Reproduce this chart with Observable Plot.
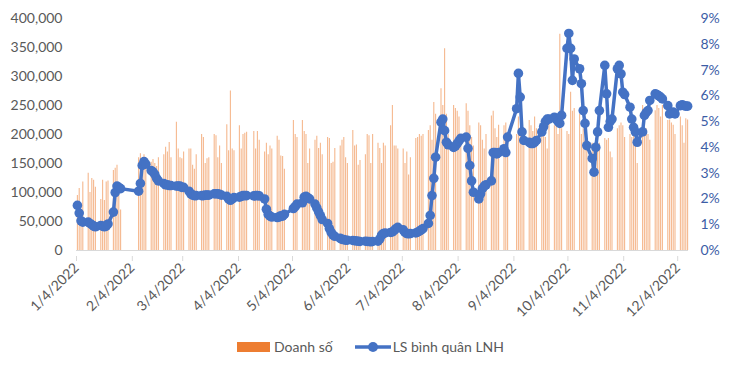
<!DOCTYPE html>
<html><head><meta charset="utf-8">
<script src="https://cdn.jsdelivr.net/npm/d3@7"></script>
<script src="https://cdn.jsdelivr.net/npm/@observablehq/plot@0.6"></script>
<style>
body{margin:0;background:#fff;font-family:Lato,sans-serif;}
#wrap{position:relative;width:730px;height:372px;overflow:hidden;}
#legend{position:absolute;top:338px;left:237px;display:flex;align-items:center;font-size:14px;color:#595959;white-space:nowrap;}
</style></head>
<body><div id="wrap"><div id="chart"></div>
<div id="legend">
 <span style="display:inline-block;width:33px;height:10px;background:#ED7D31"></span>
 <span style="margin-left:4px">Doanh số</span>
 <svg width="36" height="12" style="margin-left:22px"><line x1="0" y1="6" x2="36" y2="6" stroke="#4472C4" stroke-width="3.5"/><circle cx="18" cy="6" r="5" fill="#4472C4"/></svg>
 <span style="margin-left:2px">LS bình quân LNH</span>
</div></div>
<script>
// Trading days (M/D, 2022), one line per month
const dates = [
 "1/4","1/5","1/6","1/7","1/10","1/11","1/12","1/13","1/14","1/17","1/18","1/19","1/20","1/21","1/24","1/25","1/26","1/27","1/28",
 "2/7","2/8","2/9","2/10","2/11","2/14","2/15","2/16","2/17","2/18","2/21","2/22","2/23","2/24","2/25","2/28",
 "3/1","3/2","3/3","3/4","3/7","3/8","3/9","3/10","3/11","3/14","3/15","3/16","3/17","3/18","3/21","3/22","3/23","3/24","3/25","3/28","3/29","3/30","3/31",
 "4/1","4/4","4/5","4/6","4/7","4/8","4/12","4/13","4/14","4/15","4/18","4/19","4/20","4/21","4/22","4/25","4/26","4/27","4/28","4/29",
 "5/4","5/5","5/6","5/9","5/10","5/11","5/12","5/13","5/16","5/17","5/18","5/19","5/20","5/23","5/24","5/25","5/26","5/27","5/30","5/31",
 "6/1","6/2","6/3","6/6","6/7","6/8","6/9","6/10","6/13","6/14","6/15","6/16","6/17","6/20","6/21","6/22","6/23","6/24","6/27","6/28","6/29","6/30",
 "7/1","7/4","7/5","7/6","7/7","7/8","7/11","7/12","7/13","7/14","7/15","7/18","7/19","7/20","7/21","7/22","7/25","7/26","7/27","7/28","7/29",
 "8/1","8/2","8/3","8/4","8/5","8/8","8/9","8/10","8/11","8/12","8/15","8/16","8/17","8/18","8/19","8/22","8/23","8/24","8/25","8/26","8/29","8/30","8/31",
 "9/5","9/6","9/7","9/8","9/9","9/12","9/13","9/14","9/15","9/16","9/19","9/20","9/21","9/22","9/23","9/26","9/27","9/28","9/29","9/30",
 "10/3","10/4","10/5","10/6","10/7","10/10","10/11","10/12","10/13","10/14","10/17","10/18","10/19","10/20","10/21","10/24","10/25","10/26","10/27","10/28","10/31",
 "11/1","11/2","11/3","11/4","11/7","11/8","11/9","11/10","11/11","11/14","11/15","11/16","11/17","11/18","11/21","11/22","11/23","11/24","11/25","11/28","11/29","11/30",
 "12/1","12/2","12/5","12/6","12/7","12/8","12/9"
];
// Doanh số (thousands)
const sales = [
 95,107,60,118,133,100,124,121,109,88,121,86,118,120,138,142,147,112,70,
 160,167,150,165,160,152,157,150,145,160,165,178,170,186,160,221,
 175,160,158,170,175,175,147,140,165,200,195,150,158,160,200,198,160,180,150,217,172,275,175,
 172,215,175,200,202,204,205,175,205,190,170,185,165,180,175,197,190,163,162,140,
 224,200,195,224,205,200,150,175,190,197,176,185,165,195,193,150,152,176,180,190,
 195,160,150,207,180,182,147,155,165,200,198,150,200,185,176,150,185,180,215,250,180,180,
 175,175,150,170,130,160,193,195,200,197,200,207,215,190,255,235,279,250,348,235,200,
 250,245,240,230,200,253,240,215,195,180,220,215,190,175,200,232,240,210,195,216,215,220,170,
 200,230,205,190,180,224,215,205,230,210,200,215,195,175,220,215,218,200,373,210,
 205,200,273,240,245,235,200,210,190,180,185,176,193,180,185,193,190,193,170,160,210,
 215,220,215,195,200,195,198,190,150,250,245,210,200,190,241,250,245,230,250,224,225,220,
 216,200,230,215,185,227,225
];
// LS bình quân LNH (%)
const rates = [
 1.75,1.45,1.15,1.1,1.1,1.05,1.0,0.95,0.92,0.97,0.95,0.92,0.95,1.03,1.49,2.25,2.5,2.45,2.4,
 2.3,2.6,3.3,3.45,3.35,3.1,3.05,2.95,2.8,2.7,2.6,2.55,2.55,2.52,2.52,2.5,
 2.5,2.5,2.45,2.45,2.3,2.2,2.15,2.13,2.13,2.13,2.13,2.15,2.15,2.15,2.2,2.2,2.2,2.18,2.15,2.1,2.0,1.95,2.0,
 2.05,2.07,2.1,2.13,2.13,2.13,2.12,2.13,2.13,2.12,2.0,1.6,1.4,1.33,1.3,1.28,1.3,1.35,1.33,1.4,
 1.63,1.7,1.8,1.85,2.07,2.1,2.05,2.0,1.8,1.65,1.5,1.35,1.2,1.05,0.85,0.7,0.6,0.55,0.47,0.43,
 0.42,0.4,0.4,0.39,0.38,0.37,0.36,0.35,0.36,0.35,0.35,0.34,0.35,0.36,0.45,0.6,0.66,0.68,0.7,0.72,0.78,0.85,
 0.9,0.8,0.7,0.66,0.65,0.66,0.68,0.71,0.75,0.8,0.85,1.05,1.36,2.13,2.8,3.62,4.98,5.1,4.65,4.2,4.1,
 4.0,4.05,4.15,4.25,4.35,4.4,3.96,3.3,2.7,2.26,2.0,2.2,2.4,2.5,2.55,2.7,3.8,3.8,3.75,3.8,3.95,3.8,4.4,
 5.5,6.87,5.95,4.6,4.27,4.2,4.15,4.15,4.2,4.27,4.6,4.8,5.0,5.1,5.1,5.17,5.1,5.0,4.93,5.24,
 7.84,8.42,7.84,6.6,7.43,7.05,6.47,5.43,4.93,4.07,3.57,3.04,4.0,4.6,5.43,7.18,6.08,4.78,5.0,5.1,7.05,
 7.18,6.85,6.14,6.05,5.56,5.1,4.78,4.6,4.2,4.6,5.24,5.35,5.43,5.82,6.08,6.05,6.0,5.95,5.88,5.62,5.3,5.35,
 5.37,5.3,5.62,5.65,5.62,5.6,5.6
];
const xTickLabels = ["1/4/2022","2/4/2022","3/4/2022","4/4/2022","5/4/2022","6/4/2022","7/4/2022","8/4/2022","9/4/2022","10/4/2022","11/4/2022","12/4/2022"];
const leftTicks = [0,50,100,150,200,250,300,350,400];   // thousands
const rightTicks = [0,1,2,3,4,5,6,7,8,9];               // %

const toDate = (m, d, h = 0) => new Date(Date.UTC(2022, m - 1, d, h));
const data = dates.map((s, i) => {
  const [m, d] = s.split("/").map(Number);
  return {date: toDate(m, d, 12), sales: sales[i], rate: rates[i]};
});
const xTicks = xTickLabels.map(s => { const [m, d] = s.split("/").map(Number); return toDate(m, d); });
const fmtX = new Map(xTicks.map((t, i) => [+t, xTickLabels[i]]));
const K = 400 / 9; // % -> left-axis units (secondary axis)

const chart = Plot.plot({
  width: 730, height: 322,
  marginLeft: 76, marginRight: 42, marginTop: 18, marginBottom: 72,
  style: {fontFamily: "Lato, sans-serif", fontSize: "14px", color: "#595959", background: "white", overflow: "visible"},
  x: {type: "utc", domain: [toDate(1, 4), toDate(12, 10)]},
  y: {domain: [0, 400]},
  marks: [
    Plot.ruleX(data, {x: "date", y1: 0, y2: "sales", stroke: "#ED7D31", strokeWidth: 1.1, strokeOpacity: 0.55}),
    Plot.ruleY([0], {stroke: "#D9D9D9", strokeWidth: 1}),
    Plot.axisX(xTicks, {tickFormat: d => fmtX.get(+d), tickRotate: -45, tickSize: 5, tickPadding: 4, dy: 6, stroke: "#D9D9D9", fill: "#595959", label: null}),
    Plot.axisY(leftTicks, {anchor: "left", tickSize: 0, tickPadding: 14, tickFormat: d => d3.format(",")(d * 1000), fill: "#595959", label: null}),
    Plot.axisY(rightTicks.map(p => p * K), {anchor: "right", tickSize: 0, tickPadding: 12, tickFormat: d => Math.round(d / K) + "%", fill: "#3C5DA6", label: null}),
    Plot.line(data, {x: "date", y: d => d.rate * K, stroke: "#4472C4", strokeWidth: 3.5, strokeLinejoin: "round"}),
    Plot.dot(data, {x: "date", y: d => d.rate * K, r: 4.8, fill: "#4472C4", stroke: "none"})
  ]
});
document.getElementById("chart").appendChild(chart);
</script>
</body></html>
